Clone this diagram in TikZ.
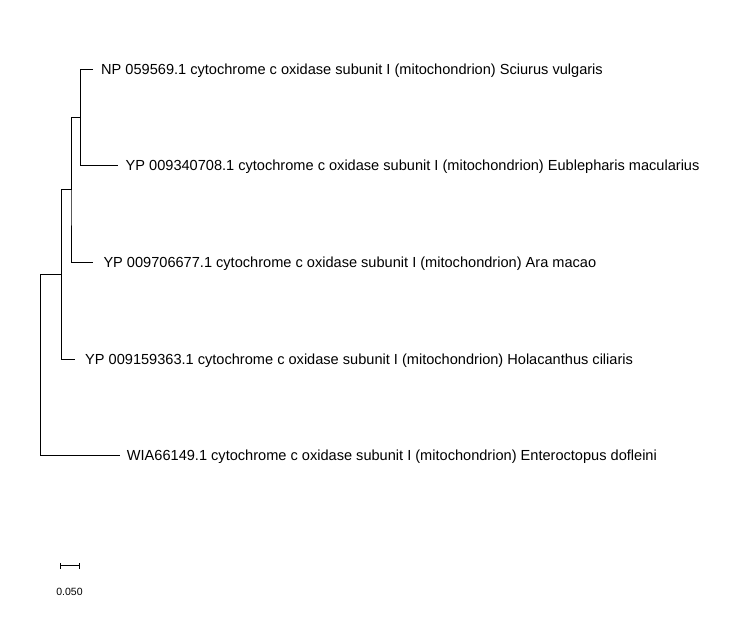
\documentclass[tikz,border=0pt]{standalone}
\usepackage{fontspec}
\setmainfont{Liberation Sans}
\begin{document}
\begin{tikzpicture}[x=1pt,y=-1pt,
  branch/.style={draw=black,line width=1pt},
  leaflabel/.style={anchor=base west,inner sep=0pt,font=\fontsize{14.58pt}{16pt}\selectfont},
  scalelabel/.style={anchor=base,inner sep=0pt,font=\fontsize{10.5pt}{12pt}\selectfont}]
\useasboundingbox[fill=white] (0,0) rectangle (740,632);
% internal nodes
\coordinate (n1) at (40.7,364.9);
\coordinate (n2) at (61.7,274.3);
\coordinate (n3) at (71,189.5);
\coordinate (n4) at (80.7,117.1);
% tips
\coordinate (t1) at (93,69);
\coordinate (t2) at (118,165.3);
\coordinate (t3) at (93,262.3);
\coordinate (t4) at (75,359.3);
\coordinate (t5) at (120,455.7);
% labels
\node[leaflabel] (l1) at (101,74.1) {NP 059569.1 cytochrome c oxidase subunit I (mitochondrion) Sciurus vulgaris};
\node[leaflabel] (l2) at (125.5,170.4) {YP 009340708.1 cytochrome c oxidase subunit I (mitochondrion) Eublepharis macularius};
\node[leaflabel] (l3) at (103.3,267.4) {YP 009706677.1 cytochrome c oxidase subunit I (mitochondrion) Ara macao};
\node[leaflabel] (l4) at (85,364.4) {YP 009159363.1 cytochrome c oxidase subunit I (mitochondrion) Holacanthus ciliaris};
\node[leaflabel] (l5) at (126.7,460.8) {WIA66149.1 cytochrome c oxidase subunit I (mitochondrion) Enteroctopus dofleini};
% branches
\draw[branch] (t1) -| (n4) |- (t2);
\draw[branch] (n4) -| (n3) |- (t3);
\draw[branch] (n3 |- n4) -- (n3);
\draw[branch] (n3) -| (n2) |- (t4);
\draw[branch] (n2 |- n3) -- (n2);
\draw[branch] (n2) -| (n1) |- (t5);
\draw[branch] (n1 |- n2) -- (n1);
% scale bar
\coordinate (s1) at (60,565.7);
\coordinate (s2) at (79,565.7);
\draw[branch] (s1) -- (s2);
\draw[branch] ([yshift=-3pt]s1) -- ([yshift=3pt]s1);
\draw[branch] ([yshift=-3pt]s2) -- ([yshift=3pt]s2);
\node[scalelabel] (sl) at (69.5,595.5) {0.050};
\end{tikzpicture}
\end{document}
